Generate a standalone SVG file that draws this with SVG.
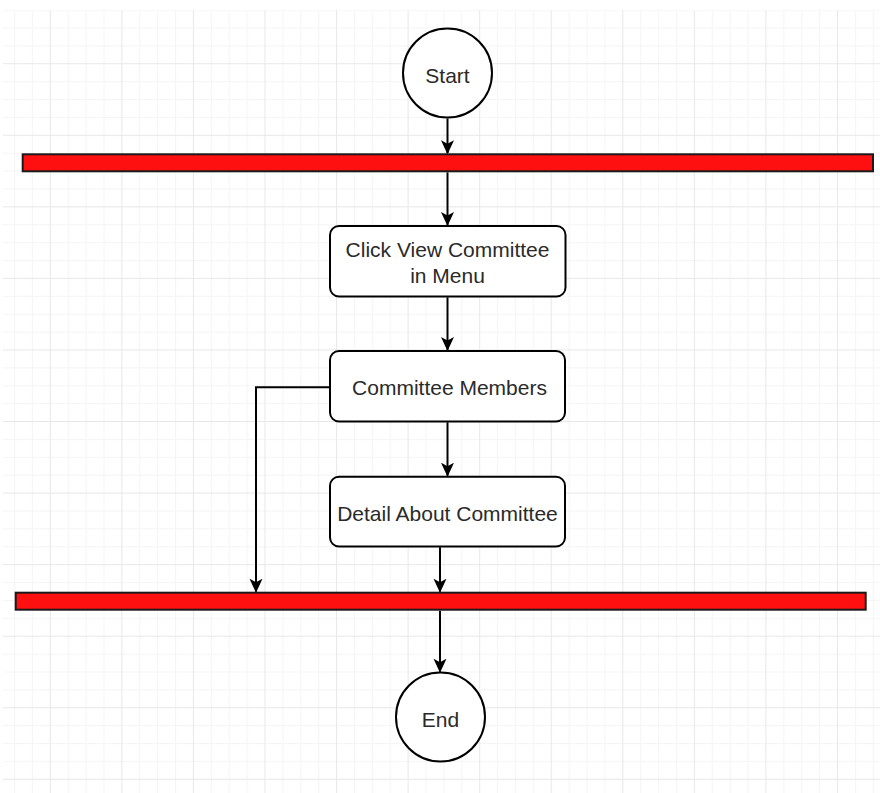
<svg xmlns="http://www.w3.org/2000/svg" width="880" height="793" viewBox="0 0 880 793">
<defs>
<pattern id="grid" patternUnits="userSpaceOnUse" x="49.8" y="63.2" width="71.56" height="71.56">
<rect x="0" y="0" width="71.56" height="71.56" fill="#ffffff"/>
<g fill="#f5f5f5">
<rect x="17.89" y="0" width="1" height="71.56"/>
<rect x="35.78" y="0" width="1" height="71.56"/>
<rect x="53.67" y="0" width="1" height="71.56"/>
<rect x="0" y="17.89" width="71.56" height="1"/>
<rect x="0" y="35.78" width="71.56" height="1"/>
<rect x="0" y="53.67" width="71.56" height="1"/>
</g>
<g fill="#e8e8e8">
<rect x="0" y="0" width="1" height="71.56"/>
<rect x="0" y="0" width="71.56" height="1"/>
</g>
</pattern>
<marker id="arrow" markerUnits="userSpaceOnUse" viewBox="0 0 14 14" refX="13" refY="7" markerWidth="14" markerHeight="14" orient="auto">
<path d="M0,0.5 L14,7 L0,13.5 L3.5,7 Z" fill="#000"/>
</marker>
<style>
.bar{fill:#ff1010;stroke:#1a1a1a;stroke-width:2}
.circ{fill:#fff;stroke:#000;stroke-width:2}
.box{fill:#fff;stroke:#000;stroke-width:2}
.lbl{font-family:"Liberation Sans",Arial,sans-serif;font-size:21px;fill:#2a2a2a;text-anchor:middle}
.edge{fill:none;stroke:#000;stroke-width:2;marker-end:url(#arrow)}
</style>
</defs>
<rect x="0" y="0" width="880" height="793" fill="#ffffff"/>
<rect x="3" y="10" width="877" height="783" fill="url(#grid)"/>

<g id="connectors">
<path class="edge" d="M447.5,118.5 V153.3"/>
<path class="edge" d="M447.5,172.3 V225"/>
<path class="edge" d="M447.5,297.3 V350"/>
<path class="edge" d="M447.5,422.3 V475.7"/>
<path class="edge" d="M329.5,387.3 H256 V591.7"/>
<path class="edge" d="M440,547.3 V591.7"/>
<path class="edge" d="M440,610.7 V671.7"/>
</g>

<g id="start">
<circle class="circ" cx="447.5" cy="73" r="44.5"/>
<text class="lbl" x="447.5" y="83">Start</text>
</g>

<g id="fork">
<rect class="bar" x="22.7" y="154.3" width="850.3" height="17"/>
</g>

<g id="click-view">
<rect class="box" x="330" y="226" width="235.5" height="70.5" rx="9" ry="9"/>
<text class="lbl" x="447.5" y="257.3">Click View Committee</text>
<text class="lbl" x="447.5" y="283.3">in Menu</text>
</g>

<g id="members">
<rect class="box" x="330" y="351" width="235" height="70.5" rx="9" ry="9"/>
<text class="lbl" x="449.5" y="395">Committee Members</text>
</g>

<g id="detail">
<rect class="box" x="330" y="476.7" width="235" height="69.8" rx="9" ry="9"/>
<text class="lbl" x="447.5" y="521">Detail About Committee</text>
</g>

<g id="join">
<rect class="bar" x="15.7" y="592.7" width="850" height="17"/>
</g>

<g id="end">
<circle class="circ" cx="440.5" cy="717" r="44.5"/>
<text class="lbl" x="440.5" y="727">End</text>
</g>
</svg>
